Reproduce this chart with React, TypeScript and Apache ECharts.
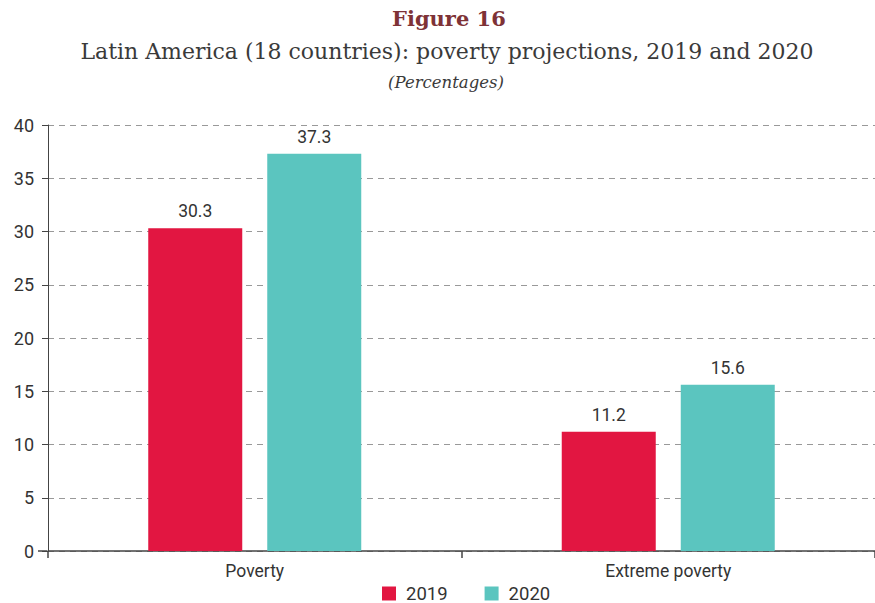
import React, { useEffect, useRef } from "react";
import * as echarts from "echarts";

const categories = ["Poverty", "Extreme poverty"];
const values2019 = [30.3, 11.2];
const values2020 = [37.3, 15.6];
const seriesNames = ["2019", "2020"];

export default function App() {
  const ref = useRef<HTMLDivElement>(null);
  useEffect(() => {
    const chart = echarts.init(ref.current!, undefined, { renderer: "svg" });
    const labelStyle = { show: true, position: "top", color: "#333", fontSize: 17.5, fontFamily: "Roboto", distance: 8 };
    chart.setOption({
      animation: false,
      graphic: [
        { type: "text", left: 447 - 55, top: 8, style: { text: "Figure 16", x: 0, y: 0, font: "bold 21px 'DejaVu Serif'", fill: "#7E3236" } },
        { type: "text", x: 447, y: 51, style: { text: "Latin America (18 countries): poverty projections, 2019 and 2020", font: "22px 'DejaVu Serif'", fill: "#3a3a3a", align: "center", verticalAlign: "middle" } },
        { type: "text", x: 446, y: 82, style: { text: "(Percentages)", font: "italic 16.5px 'DejaVu Serif'", fill: "#3a3a3a", align: "center", verticalAlign: "middle" } },
        { type: "line", shape: { x1: 38, y1: 551, x2: 47, y2: 551 }, style: { stroke: "#444", lineWidth: 1.5 } },
      ],
      legend: {
        top: 579,
        left: 377,
        itemWidth: 14,
        itemHeight: 14,
        itemGap: 37,
        icon: "rect",
        textStyle: { fontFamily: "Roboto", fontSize: 18.5, color: "#333", padding: [0, 0, 0, 5] },
        data: seriesNames,
      },
      grid: { left: 48, right: -6, top: 125, bottom: 52, containLabel: false },
      xAxis: {
        type: "category",
        data: categories,
        axisLine: { lineStyle: { color: "#444", width: 1.5 } },
        axisTick: { show: true, length: 7, lineStyle: { color: "#444", width: 1.5 } },
        axisLabel: { color: "#333", fontFamily: "Roboto", fontSize: 17.5, margin: 11 },
      },
      yAxis: {
        type: "value",
        min: 0,
        max: 40,
        interval: 5,
        axisLine: { show: true, lineStyle: { color: "#444" } },
        axisTick: { show: true, length: 6, lineStyle: { color: "#444" } },
        axisLabel: { color: "#333", fontFamily: "Roboto", fontSize: 18, margin: 14 },
        splitLine: { lineStyle: { color: "#999", type: [6, 5] } },
      },
      series: [
        { name: seriesNames[0], type: "bar", data: values2019, barWidth: 94, barGap: "26.6%", itemStyle: { color: "#E21641" }, label: labelStyle },
        { name: seriesNames[1], type: "bar", data: values2020, barWidth: 94, itemStyle: { color: "#5BC5BF" }, label: labelStyle },
      ],
    });
    return () => chart.dispose();
  }, []);
  return <div ref={ref} style={{ width: 875, height: 603, position: "absolute", left: 0, top: 0 }} />;
}
